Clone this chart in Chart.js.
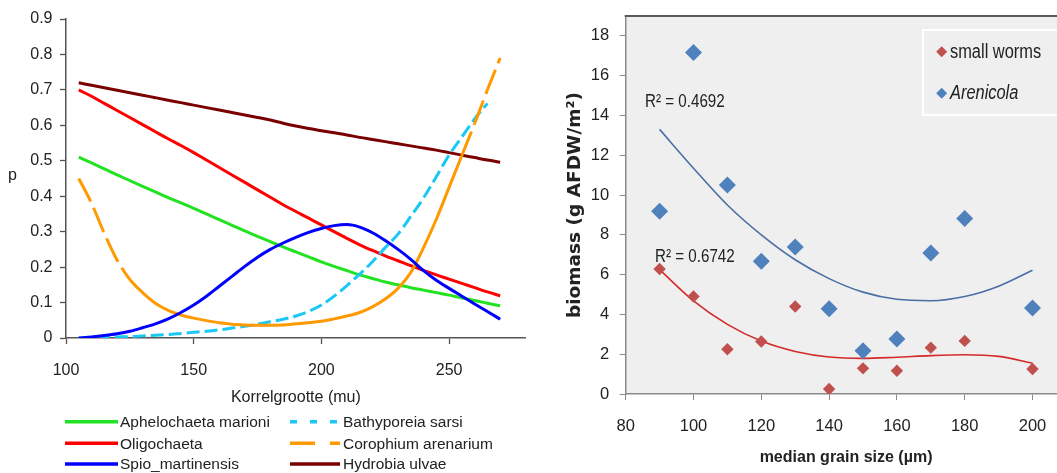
<!DOCTYPE html>
<html><head><meta charset="utf-8">
<script src="https://cdn.jsdelivr.net/npm/chart.js@4.4.1/dist/chart.umd.min.js"></script>
<style>
html,body{margin:0;padding:0;background:#fff;width:1057px;height:473px;overflow:hidden;position:relative;}
#left{position:absolute;left:0;top:0;width:530px;height:473px;}
#right{position:absolute;left:560px;top:0;width:520px;height:473px;}
</style></head><body>
<div id="left"><canvas id="c1"></canvas></div>
<div id="right"><canvas id="c2"></canvas></div>
<script>
// ---------- Left chart data ----------
const grainSizes = [105,110,115,120,125,130,135,140,145,150,155,160,165,170,175,180,185,190,195,200,205,210,215,220,225,230,235,240,245,250,255,260,265,270];
const aphelochaeta = [.510,.494,.477,.460,.444,.428,.412,.396,.381,.366,.350,.334,.318,.302,.287,.272,.257,.243,.229,.215,.202,.190,.178,.168,.158,.150,.142,.135,.128,.121,.113,.106,.098,.091];
const oligochaeta  = [.700,.682,.662,.642,.622,.602,.582,.562,.543,.523,.502,.481,.460,.439,.418,.397,.376,.357,.338,.319,.300,.281,.263,.247,.232,.218,.204,.191,.178,.166,.154,.142,.130,.119];
const spio         = [.000,.003,.007,.012,.019,.029,.040,.054,.072,.093,.118,.146,.174,.202,.228,.250,.268,.284,.298,.309,.317,.320,.313,.297,.275,.250,.222,.190,.163,.140,.118,.096,.075,.053];
const bathyporeia  = [.000,.001,.002,.003,.004,.006,.008,.010,.013,.016,.019,.023,.028,.033,.039,.046,.053,.062,.075,.093,.118,.148,.180,.215,.255,.293,.343,.395,.455,.516,.567,.618,.662,null];
const corophium    = [.450,.380,.295,.220,.165,.128,.098,.078,.065,.056,.049,.043,.039,.037,.036,.036,.037,.040,.043,.047,.054,.062,.072,.088,.110,.140,.185,.255,.335,.425,.515,.605,.700,.790];
const hydrobia     = [.720,.713,.706,.699,.692,.685,.678,.671,.664,.657,.650,.643,.636,.629,.622,.615,.606,.598,.591,.585,.579,.573,.566,.560,.554,.548,.542,.536,.530,.523,.516,.509,.502,.496];
const leftLabels = ['Aphelochaeta marioni','Oligochaeta','Spio_martinensis','Bathyporeia sarsi','Corophium arenarium','Hydrobia ulvae'];
const leftXTicks = [100,150,200,250];
const leftYTicks = [0,0.1,0.2,0.3,0.4,0.5,0.6,0.7,0.8,0.9];

// ---------- Right chart data ----------
const grainMedian = [90,100,110,120,130,140,150,160,170,180,200];
const smallWorms  = [6.28,4.9,2.25,2.64,4.4,0.25,1.29,1.17,2.33,2.67,1.26];
const arenicola   = [9.18,17.16,10.5,6.67,7.39,4.28,2.17,2.77,7.09,8.82,4.32];
const trendX      = [90,100,110,120,130,140,150,160,170,180,190,200];
const smallWormsTrend = [6.25,4.68,3.5,2.66,2.14,1.86,1.79,1.85,1.93,1.97,1.89,1.55];
const arenicolaTrend  = [13.3,11.35,9.5,8.0,6.75,5.8,5.12,4.76,4.69,4.9,5.42,6.22];
const rightLabels = ['small worms','Arenicola'];
const r2Labels = ['R\u00B2 = 0.4692','R\u00B2 = 0.6742'];
const rightXTicks = [80,100,120,140,160,180,200];
const rightYTicks = [0,2,4,6,8,10,12,14,16,18];

// ---------- styles ----------
const leftSeries = [aphelochaeta, oligochaeta, spio, bathyporeia, corophium, hydrobia];
const leftColors = ['#22e322','#ff0000','#0000ff','#19c8f5','#ff9900','#7a0000'];
const leftDash   = [[],[],[],[13,5],[],[]];
const legendDash = [[],[],[],[7,13],[25,15,10,100],[]];
const leftOrder  = [4,3,0,2,1,5];
// orange line: dashes only where the curve is steep (start and end)
const orangeSegment = { borderDash: c => (c.p0.parsed.x < 125 || c.p0.parsed.x >= 255) ? [26,7] : undefined };

const zip = (xs, ys) => xs.map((x,i)=>({x, y: ys[i]}));
const LS = "'Liberation Sans', Arial, sans-serif";

Chart.defaults.animation = false;

const leftPlugin = {
  id: 'leftExtras',
  afterDraw(chart) {
    const ctx = chart.ctx;
    ctx.save();
    ctx.fillStyle = '#222';
    ctx.font = '16px ' + LS;
    ctx.textAlign = 'center';
    ctx.textBaseline = 'middle';
    ctx.fillText('p', 12.5, 176);
    const colX = [[65,118,120],[290,340,343]];
    const rowY = [421.7,443.3,464];
    ctx.font = '15.5px ' + LS;
    ctx.textAlign = 'left';
    chart.data.datasets.forEach((ds, i) => {
      const c = colX[Math.floor(i/3)], y = rowY[i%3];
      ctx.strokeStyle = ds.borderColor;
      ctx.lineWidth = 3.5;
      ctx.setLineDash(legendDash[i]);
      ctx.beginPath(); ctx.moveTo(c[0], y); ctx.lineTo(c[1], y); ctx.stroke();
      ctx.setLineDash([]);
      ctx.fillStyle = '#222';
      ctx.fillText(ds.label, c[2], y + 1);
    });
    ctx.restore();
  }
};

new Chart(document.getElementById('c1'), {
  type: 'line',
  data: {
    datasets: leftSeries.map((arr, i) => ({
      label: leftLabels[i],
      data: zip(grainSizes, arr),
      borderColor: leftColors[i],
      borderWidth: 3,
      borderDash: leftDash[i],
      segment: i === 4 ? orangeSegment : undefined,
      pointRadius: 0,
      cubicInterpolationMode: 'monotone',
      order: leftOrder[i],
      spanGaps: false
    }))
  },
  options: {
    responsive: true, maintainAspectRatio: false,
    layout: { padding: { left: 0, top: 19, right: 4.3, bottom: 66 } },
    plugins: { legend: { display: false }, tooltip: { enabled: false } },
    scales: {
      x: {
        type: 'linear', min: 100, max: 280,
        afterBuildTicks: s => { s.ticks = leftXTicks.map(v => ({ value: v })); },
        afterFit: s => { s.height = 69; },
        ticks: { font: { family: LS, size: 16 }, color: '#222', padding: 17, maxRotation: 0 },
        grid: { drawOnChartArea: false, drawTicks: true, tickLength: 6, color: '#555', tickWidth: 1.3 },
        border: { color: '#555', width: 1.5 },
        title: { display: true, text: 'Korrelgrootte (mu)', font: { family: LS, size: 16 }, color: '#222', padding: 0 }
      },
      y: {
        type: 'linear', min: 0, max: 0.9,
        afterBuildTicks: s => { s.ticks = leftYTicks.map(v => ({ value: v })); },
        afterFit: s => { s.width = 66; },
        ticks: { font: { family: LS, size: 16 }, color: '#222', padding: 7.5, callback: v => String(v) },
        grid: { drawOnChartArea: false, drawTicks: true, tickLength: 6, color: '#555', tickWidth: 1.3 },
        border: { color: '#555', width: 1.5 }
      }
    }
  },
  plugins: [leftPlugin]
});

// ---------- Right chart ----------
const RED = '#c0504d', BLUE = '#4f81bd';
const drawDiamond = (ctx, x, y, r, color) => {
  ctx.fillStyle = color;
  ctx.beginPath(); ctx.moveTo(x - r, y); ctx.lineTo(x, y - r); ctx.lineTo(x + r, y); ctx.lineTo(x, y + r); ctx.closePath(); ctx.fill();
};
// text drawn slightly condensed (narrow face look)
const narrowText = (ctx, text, x, y, font) => {
  ctx.save();
  ctx.font = font;
  ctx.translate(x, y);
  ctx.scale(0.82, 1);
  ctx.textAlign = 'left';
  ctx.textBaseline = 'middle';
  ctx.fillText(text, 0, 0);
  ctx.restore();
};
const rightPlugin = {
  id: 'rightExtras',
  beforeDraw(chart) {
    const { ctx, chartArea: a } = chart;
    ctx.save();
    ctx.fillStyle = '#efefef';
    ctx.fillRect(a.left, a.top, a.right - a.left, a.bottom - a.top);
    ctx.restore();
  },
  afterDraw(chart) {
    const { ctx, chartArea: a } = chart;
    ctx.save();
    ctx.strokeStyle = '#5a5a5a';
    ctx.lineWidth = 2;
    ctx.beginPath(); ctx.moveTo(a.left - 1, a.top); ctx.lineTo(a.right + 20, a.top); ctx.stroke();
    ctx.fillStyle = '#222';
    narrowText(ctx, r2Labels[0], 85, 101.7, '18.5px ' + LS);
    narrowText(ctx, r2Labels[1], 95, 256.7, '18.5px ' + LS);
    // legend box
    ctx.fillStyle = '#efefef';
    ctx.fillRect(363, 30, 150, 85);
    ctx.strokeStyle = '#ffffff';
    ctx.lineWidth = 2;
    ctx.strokeRect(363, 30, 150, 85);
    drawDiamond(ctx, 381.7, 51.7, 5.5, RED);
    drawDiamond(ctx, 381.7, 93.3, 5.5, BLUE);
    ctx.fillStyle = '#222';
    narrowText(ctx, rightLabels[0], 390, 52, '20px ' + LS);
    narrowText(ctx, rightLabels[1], 390, 93.5, 'italic 20px ' + LS);
    ctx.restore();
  }
};

new Chart(document.getElementById('c2'), {
  type: 'scatter',
  data: {
    datasets: [
      { label: rightLabels[0], data: zip(grainMedian, smallWorms), pointStyle: 'rectRot', pointRadius: 6.2, backgroundColor: RED, borderWidth: 0, order: 0 },
      { label: rightLabels[1], data: zip(grainMedian, arenicola), pointStyle: 'rectRot', pointRadius: 8.5, backgroundColor: BLUE, borderWidth: 0, order: 0 },
      { type: 'line', label: 'trend small worms', data: zip(trendX, smallWormsTrend), borderColor: '#d42a2a', borderWidth: 1.6, pointRadius: 0, cubicInterpolationMode: 'monotone', order: 1 },
      { type: 'line', label: 'trend Arenicola', data: zip(trendX, arenicolaTrend), borderColor: '#4a6fa5', borderWidth: 1.6, pointRadius: 0, cubicInterpolationMode: 'monotone', order: 1 }
    ]
  },
  options: {
    responsive: true, maintainAspectRatio: false,
    layout: { padding: { left: 0, top: 16, right: 13.6, bottom: 5.4 } },
    plugins: { legend: { display: false }, tooltip: { enabled: false } },
    scales: {
      x: {
        type: 'linear', min: 80, max: 210,
        afterBuildTicks: s => { s.ticks = rightXTicks.map(v => ({ value: v })); },
        afterFit: s => { s.height = 73.6; s.paddingLeft = 0; s.paddingRight = 0; },
        ticks: { font: { family: LS, size: 16.5 }, color: '#222', padding: 17, maxRotation: 0 },
        grid: { drawOnChartArea: false, drawTicks: true, tickLength: 6, color: '#8a8a8a' },
        border: { color: '#8a8a8a', width: 1.5 },
        title: { display: true, text: 'median grain size (\u00B5m)', font: { family: LS, size: 16, weight: 'bold' }, color: '#222', padding: 0 }
      },
      y: {
        type: 'linear', min: 0, max: 19,
        afterBuildTicks: s => { s.ticks = rightYTicks.map(v => ({ value: v })); },
        afterFit: s => { s.width = 65.7; s.paddingTop = 0; s.paddingBottom = 0; },
        ticks: { font: { family: LS, size: 16.5 }, color: '#222', padding: 10.5 },
        grid: { drawOnChartArea: false, drawTicks: true, tickLength: 6, color: '#8a8a8a' },
        border: { color: '#8a8a8a', width: 1.5 },
        title: { display: true, text: 'biomass (g AFDW/m\u00B2)', font: { family: "'DejaVu Sans', sans-serif", size: 18.5, weight: 'bold' }, color: '#222', padding: { top: 3.9, bottom: 0 } }
      }
    }
  },
  plugins: [rightPlugin]
});
</script>
</body></html>
